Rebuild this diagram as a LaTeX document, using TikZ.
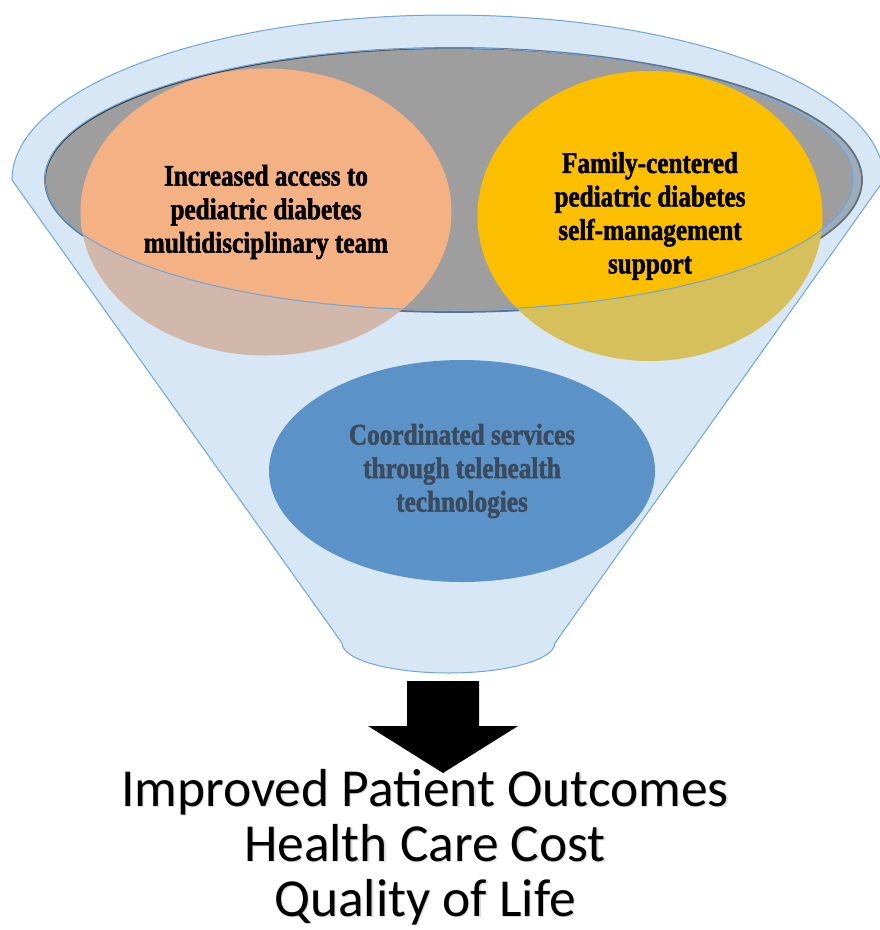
\documentclass[tikz,border=0pt]{standalone}
\usepackage{fontspec}
\usetikzlibrary{shapes.geometric}
\newfontfamily\boxfont[FakeStretch=0.84,FakeBold=1.6]{Liberation Serif}
\newfontfamily\outfont{Carlito}
\definecolor{funnelblue}{HTML}{9DC3E6}
\definecolor{funneledge}{HTML}{6FA5DA}
\definecolor{rimgray}{HTML}{9E9E9E}
\definecolor{rimedge}{HTML}{3F3F3F}
\definecolor{peach}{HTML}{F4B183}
\definecolor{gold}{HTML}{FBBF00}
\definecolor{steel}{HTML}{5B93C8}
\definecolor{slate}{HTML}{3B4A5C}
\tikzset{
  bubble/.style={ellipse, inner sep=0pt, align=center,
    font=\boxfont\bfseries\fontsize{30}{33.5}\selectfont},
  outcome/.style={align=center, inner sep=0pt,
    font=\outfont\fontsize{53.5}{55}\selectfont}
}
% funnel outline: wide elliptical mouth, straight sides, rounded spout
\def\funnelpath{(12,180) arc[start angle=180, end angle=0, x radius=436pt, y radius=165pt]
  -- (555,643) arc[start angle=0, end angle=-180, x radius=106.5pt, y radius=30pt] -- cycle}
\def\rimpath{(449,179) ellipse[x radius=404pt, y radius=131pt]}
\begin{document}
\begin{tikzpicture}[x=1pt, y=-1pt]
\useasboundingbox (0,0) rectangle (880,930);
\fill[white] (0,0) rectangle (880,930);
\begin{scope}
\clip (0,0) rectangle (880,930);
% inside of the funnel mouth
\filldraw[fill=rimgray, draw=rimedge, line width=1.8pt]
  (453.5,180) ellipse[x radius=408.5pt, y radius=132pt];
% the two inputs sitting in the mouth
\node[bubble, fill=peach, minimum width=371pt, minimum height=287pt] (access) at (266,212)
  {Increased access to\\pediatric diabetes\\multidisciplinary team};
\node[bubble, fill=gold, minimum width=345pt, minimum height=290pt] (family) at (650,216)
  {Family-centered\\pediatric diabetes\\self-management\\support};
% translucent funnel wall in front of everything below the rim
\fill[funnelblue, fill opacity=0.4, even odd rule] \funnelpath \rimpath;
\draw[funneledge, line width=1pt] \funnelpath;
\draw[funneledge, line width=1pt] \rimpath;
% third input inside the cone
\node[bubble, fill=steel, text=slate, minimum width=386pt, minimum height=222pt] (tele) at (462,471)
  {Coordinated services\\through telehealth\\technologies};
\end{scope}
% outcome text with a soft drop shadow
\node[outcome, text=black!40, opacity=0.35] (outshadow) at (426.2,848.2)
  {Improved Patient Outcomes\\Health Care Cost\\Quality of Life};
\node[outcome] (outcomes) at (425,847)
  {Improved Patient Outcomes\\Health Care Cost\\Quality of Life};
% block arrow from the spout down to the outcomes
\coordinate (spout) at (443,681);
\fill[black] (spout) ++(-36,0) -- ++(72,0) -- ++(0,45) -- ++(39,0) -- (443,773)
  -- (368,726) -- (407,726) -- cycle;
\end{tikzpicture}
\end{document}
